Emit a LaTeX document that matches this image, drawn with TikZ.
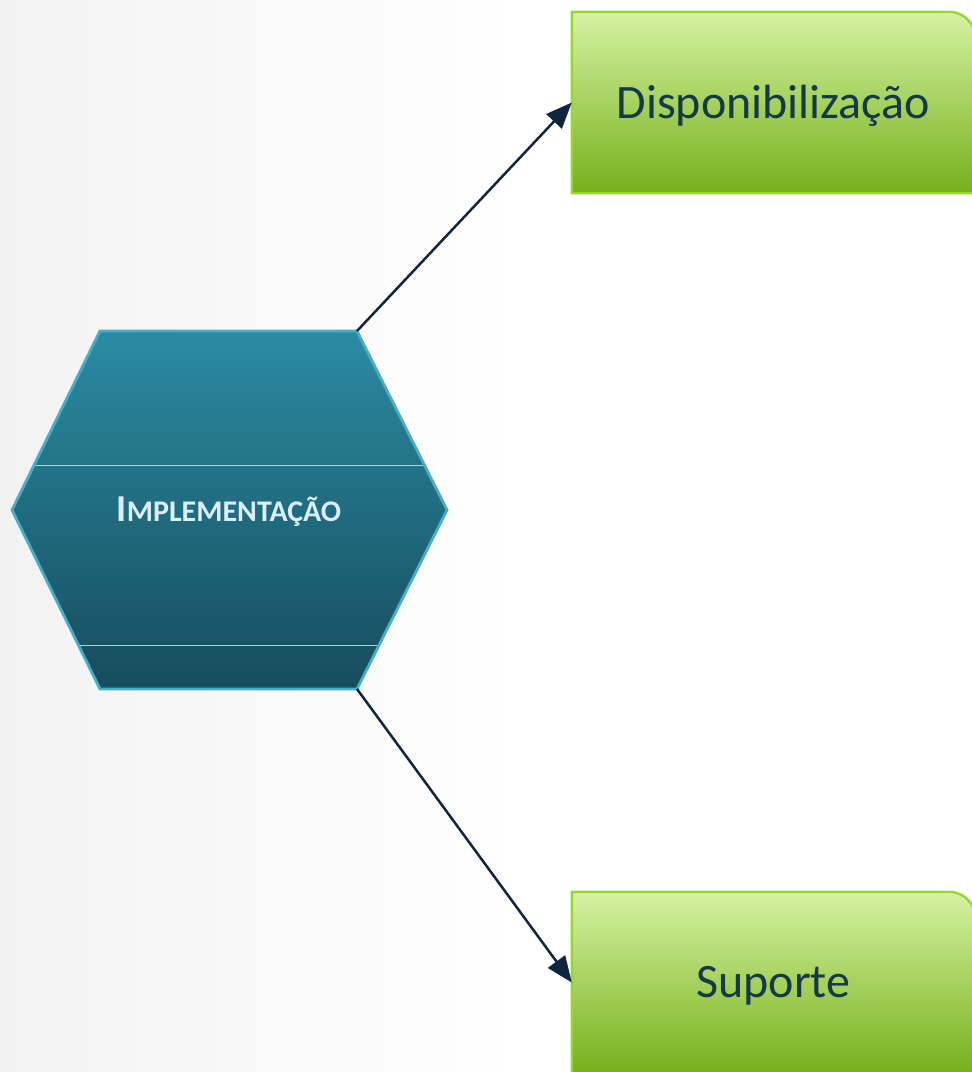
\documentclass[tikz,border=0pt]{standalone}
\usepackage{fontspec}
\setmainfont{Carlito}
\usetikzlibrary{arrows.meta}
\definecolor{hexTop}{RGB}{43,139,163}
\definecolor{hexBot}{RGB}{22,76,92}
\definecolor{hexLine}{RGB}{75,172,198}
\definecolor{hexInner}{RGB}{160,215,228}
\definecolor{grTop}{RGB}{214,242,162}
\definecolor{grBot}{RGB}{118,176,28}
\definecolor{grLine}{RGB}{150,214,50}
\definecolor{txtDark}{RGB}{20,58,70}
\definecolor{hexTxt}{RGB}{220,238,244}
\definecolor{arrowC}{RGB}{16,37,63}
\tikzset{
  boxlabel/.style={minimum width=403pt, minimum height=181pt, inner sep=0pt,
    text=txtDark, font=\fontsize{48}{52}\selectfont},
  boxshape/.style={top color=grTop, bottom color=grBot, draw=grLine, line width=2.4pt},
  conn/.style={draw=arrowC, line width=2.5pt, -{Triangle[length=26pt,width=21pt]}},
}
\begin{document}
\begin{tikzpicture}[x=1pt,y=-1pt]
\useasboundingbox (0,0) rectangle (972,1072);
% background
\shade[left color=black!5, right color=white] (0,0) rectangle (520,1072);
% hexagon
\coordinate (hTL) at (100,331);
\coordinate (hTR) at (357,331);
\coordinate (hR) at (447,510);
\coordinate (hBR) at (357,689);
\coordinate (hBL) at (100,689);
\coordinate (hL) at (12,510);
\shade[top color=hexTop, bottom color=hexBot] (hTL) -- (hTR) -- (hR) -- (hBR) -- (hBL) -- (hL) -- cycle;
\draw[hexInner, line width=1pt] (35,465.5) -- (423,465.5);
\draw[hexInner, line width=1pt] (80,645.5) -- (378,645.5);
\draw[hexLine, line width=2.8pt, line join=miter] (hTL) -- (hTR) -- (hR) -- (hBR) -- (hBL) -- (hL) -- cycle;
\node (impl) at (229,512) [text=hexTxt, inner sep=0pt]
  {\bfseries\fontsize{38}{40}\selectfont I\fontsize{30}{32}\selectfont MPLEMENTAÇÃO};
% boxes
\node (disp) [boxlabel] at (773.5,102.5) {};
\shade[boxshape] (disp.south west) -- (disp.north west) [rounded corners=26pt] -- (disp.north east) [sharp corners] -- (disp.south east) -- cycle;
\node [boxlabel] at ([yshift=-3pt]disp.center) {Disponibilização};
\node (sup) [boxlabel] at (773.5,982.5) {};
\shade[boxshape] (sup.south west) -- (sup.north west) [rounded corners=26pt] -- (sup.north east) [sharp corners] -- (sup.south east) -- cycle;
\node [boxlabel] at ([yshift=-3pt]sup.center) {Suporte};
% connectors
\draw[conn] (hTR) -- (disp.west);
\draw[conn] (hBR) -- (sup.west);
\end{tikzpicture}
\end{document}
